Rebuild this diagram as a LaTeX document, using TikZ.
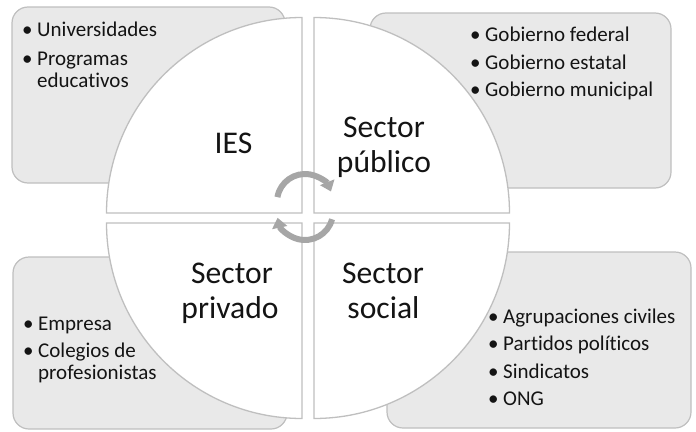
\documentclass[tikz,border=0pt]{standalone}
\usepackage{fontspec}
\setmainfont{Carlito}[Ligatures={NoCommon}]
\usetikzlibrary{arrows.meta}
\definecolor{boxfill}{RGB}{233,233,233}
\definecolor{edgegray}{RGB}{191,191,191}
\definecolor{arrgray}{RGB}{166,166,166}
\definecolor{txt}{RGB}{20,20,20}
\newcommand\bul{\llap{•\hspace{4.5pt}}}
\begin{document}
\begin{tikzpicture}[x=1pt,y=1pt,
  cornerbox/.style={draw=edgegray,fill=boxfill,line width=1.2pt,rounded corners=16pt},
  quad/.style={draw=edgegray,fill=white,line width=1.3pt},
  big/.style={font=\fontsize{31.6}{34.7}\selectfont,text=txt,inner sep=0pt,anchor=base},
  itm/.style={font=\fontsize{21}{23}\selectfont,text=txt,inner sep=0pt,anchor=base west},
  carrow/.style={draw=arrgray,line width=6pt,-{Triangle[width=15pt,length=10pt]}}]
\useasboundingbox (0,0) rectangle (696,-431);
% corner boxes
\draw[cornerbox] (12,-7) rectangle (285,-183);
\draw[cornerbox] (370,-13) rectangle (671,-188);
\draw[cornerbox] (13,-257) rectangle (287,-429);
\draw[cornerbox] (387,-252) rectangle (691,-428);
% quadrants
\draw[quad] (302,-213) -- ++(-195.5,0) arc[start angle=180,end angle=90,radius=195.5pt] -- cycle;
\draw[quad] (314,-213) -- ++(195.5,0) arc[start angle=0,end angle=90,radius=195.5pt] -- cycle;
\draw[quad] (302,-223) -- ++(-195.5,0) arc[start angle=180,end angle=270,radius=195.5pt] -- cycle;
\draw[quad] (314,-223) -- ++(195.5,0) arc[start angle=0,end angle=-90,radius=195.5pt] -- cycle;
% circular arrows
\coordinate (cu) at (305,-202);
\coordinate (cl) at (305,-212);
\draw[carrow] ([shift={(170:28pt)}]cu) arc[start angle=170,end angle=22,radius=28pt];
\draw[carrow] ([shift={(-15:28pt)}]cl) arc[start angle=-15,end angle=-168,radius=28pt];
% quadrant labels
\node[big] (ies) at (233.5,-153) {IES};
\node[big] (pub1) at (384,-137) {Sector};
\node[big] (pub2) at (384,-172) {público};
\node[big] (pri1) at (232,-283) {Sector};
\node[big] (pri2) at (230,-318) {privado};
\node[big] (soc1) at (383,-283) {Sector};
\node[big] (soc2) at (383.5,-318) {social};
% bullet texts
\node[itm] (a1) at (37,-36) {\bul Universidades};
\node[itm] (a2) at (37,-65) {\bul Programas};
\node[itm] (a3) at (37,-87) {educativos};
\node[itm] (b1) at (485,-41) {\bul Gobierno federal};
\node[itm] (b2) at (485,-69) {\bul Gobierno estatal};
\node[itm] (b3) at (485,-96.5) {\bul Gobierno municipal};
\node[itm] (c1) at (38,-330) {\bul Empresa};
\node[itm] (c2) at (38,-357) {\bul Colegios de};
\node[itm] (c3) at (38,-379.5) {profesionistas};
\node[itm] (d1) at (503,-323) {\bul Agrupaciones civiles};
\node[itm] (d2) at (503,-350.5) {\bul Partidos políticos};
\node[itm] (d3) at (503,-378.3) {\bul Sindicatos};
\node[itm] (d4) at (503,-405.7) {\bul ONG};
\end{tikzpicture}
\end{document}
